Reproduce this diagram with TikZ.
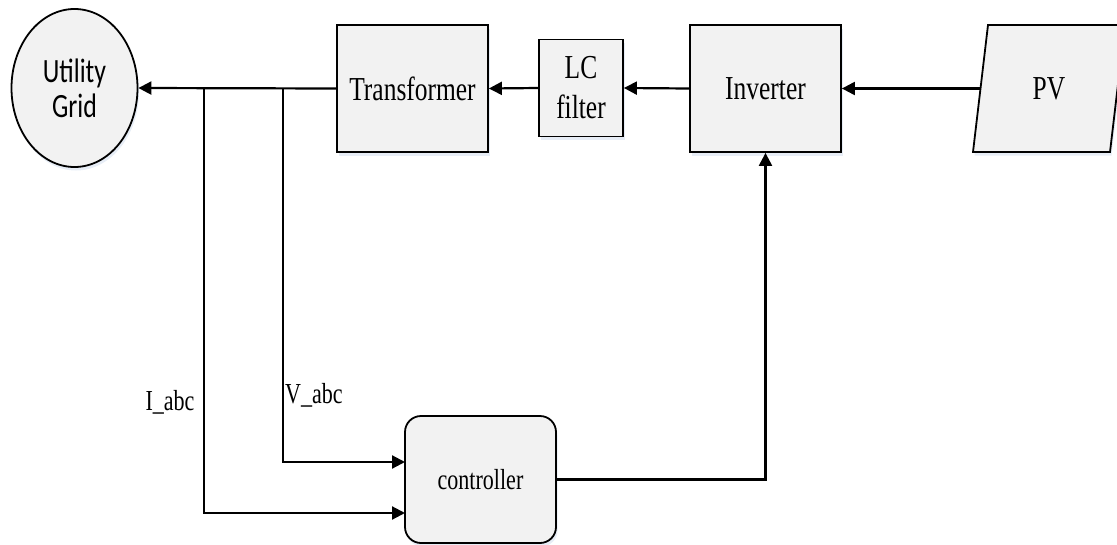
\documentclass[tikz,border=0pt]{standalone}
\usepackage{fontspec}
\setmainfont{Liberation Serif}
\newfontfamily\calibrifont{Carlito}
\usetikzlibrary{arrows.meta,shapes.geometric,shadows}

% narrow the lettering as in the block drawing
\newcommand{\nx}[1]{\scalebox{0.76}[1]{#1}}

\definecolor{boxfill}{HTML}{F2F2F2}
\definecolor{shade}{HTML}{C9D7EA}

\tikzset{
  blk/.style={draw, line width=1.8pt, fill=boxfill, inner sep=0pt,
    drop shadow={shadow xshift=1.5pt, shadow yshift=-3.5pt, fill=shade, opacity=0.45}},
  bigtxt/.style={font=\fontsize{33.5}{40}\selectfont, align=center},
  smalltxt/.style={font=\fontsize{29}{34}\selectfont},
  wire/.style={line width=2.2pt},
  flow/.style={wire, -{Triangle[length=13pt,width=13pt]}},
}

\begin{document}
\begin{tikzpicture}[x=1pt, y=-1pt]
  \useasboundingbox (0,0) rectangle (1117,544);

  % grid
  \node[blk, ellipse, minimum width=126pt, minimum height=158pt,
        font=\calibrifont\fontsize{34}{34}\selectfont, align=center]
        (grid) at (74.5,88) {\nx{Utility}\\[1pt]\nx{Grid}};

  % power path blocks
  \node[blk, bigtxt, minimum width=151pt, minimum height=127pt]
        (trans) at (412.5,88.5) {\nx{Transformer}};
  \node[blk, bigtxt, minimum width=84pt, minimum height=97pt]
        (lc) at (581,88) {\nx{LC}\\\nx{filter}};
  \node[blk, bigtxt, minimum width=151pt, minimum height=127pt]
        (inv) at (765.5,88.5) {\nx{Inverter}};

  % PV source (parallelogram)
  \draw[blk] (973,152) -- (988,25) -- (1125,25) -- (1110,152) -- cycle;
  \node[bigtxt, minimum width=137pt, minimum height=127pt, inner sep=0pt]
        (pv) at (1049,88.5) {\nx{PV}};

  % controller
  \node[blk, rounded corners=16pt, minimum width=151pt, minimum height=127pt,
        smalltxt] (ctrl) at (480.5,479.5) {\nx{controller}};

  % power flow
  \draw[flow] (pv.west) -- (inv.east);
  \draw[flow] (inv.west) -- (lc.east);
  \draw[flow] (lc.west) -- (trans.east);
  \draw[flow] (trans.west) -- (grid.east);

  % measurement taps
  \coordinate (tapI) at (204,88.5);
  \coordinate (tapV) at (283,88.5);
  \coordinate (inV) at (405,462);
  \coordinate (inI) at (405,513);
  \draw[flow] (tapV) |- (inV);
  \draw[flow] (tapI) |- (inI);

  % control signal to the inverter
  \draw[flow] (ctrl.east) -| (inv.south);

  % signal labels
  \node[smalltxt, inner sep=0pt] (ilbl) at (170,402) {\nx{I\_abc}};
  \node[smalltxt, inner sep=0pt, anchor=west] (vlbl) at (285,395) {\nx{V\_abc}};
\end{tikzpicture}
\end{document}
